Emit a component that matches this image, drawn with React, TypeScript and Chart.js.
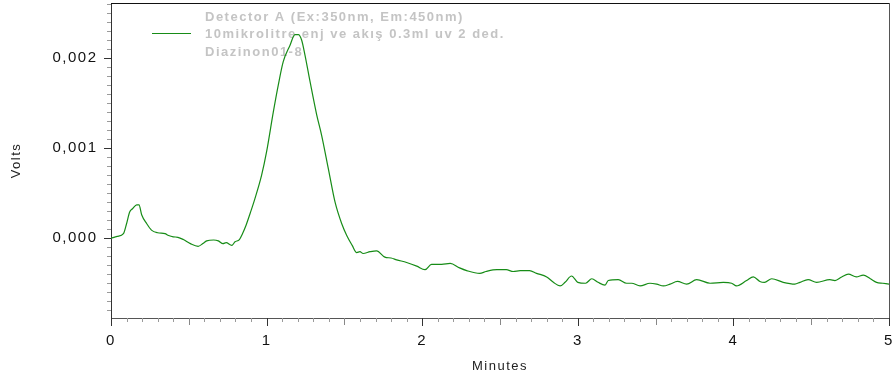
import React, { useEffect, useRef } from 'react';
import { Chart, registerables } from 'chart.js';

Chart.register(...registerables);

// ---- data ----
const TIME: number[] = [
  0.0, 0.04, 0.08, 0.1, 0.12, 0.14, 0.165, 0.18, 0.197, 0.23, 0.26, 0.3, 0.347, 0.37, 0.4, 0.43, 0.465, 0.51, 0.56,
  0.59, 0.615, 0.66, 0.69, 0.72, 0.74, 0.776, 0.797, 0.825, 0.845, 0.868, 0.895, 0.925, 0.968, 1.0, 1.043, 1.075,
  1.107, 1.15, 1.182, 1.204, 1.225, 1.247, 1.279, 1.322, 1.354, 1.397, 1.44, 1.483, 1.515, 1.55, 1.579, 1.6,
  1.62, 1.665, 1.707, 1.76, 1.8, 1.836, 1.9, 1.965, 2.018, 2.06, 2.125, 2.18, 2.24, 2.286, 2.37, 2.41, 2.48, 2.54,
  2.585, 2.63, 2.69, 2.735, 2.8, 2.843, 2.886, 2.918, 2.96, 3.0, 3.05, 3.09, 3.13, 3.175, 3.196, 3.26, 3.314,
  3.346, 3.4, 3.464, 3.507, 3.55, 3.593, 3.64, 3.7, 3.764, 3.85, 3.935, 3.989, 4.02, 4.085, 4.128, 4.17, 4.2,
  4.246, 4.32, 4.395, 4.428, 4.48, 4.535, 4.62, 4.653, 4.696, 4.739, 4.79, 4.835, 4.88, 4.92, 4.96, 5.0,
];
const VOLTS: number[] = [
  0.0, 0.00002, 0.00005, 0.00016, 0.00029, 0.00033, 0.00037, 0.00037, 0.00026, 0.00016, 0.00009, 0.00006, 0.00005,
  0.00003, 0.000015, 0.00001, -0.000015, -0.00006, -0.00009, -0.00006, -0.00003, -0.00002, -0.00003, -0.00006,
  -0.00005, -0.00008, -0.00004, -0.000015, 0.00005, 0.000144, 0.00028, 0.00044, 0.0007, 0.00096, 0.0014, 0.0017,
  0.00196, 0.00214, 0.00226, 0.00226, 0.0022, 0.00203, 0.00174, 0.00137, 0.00114, 0.00077, 0.0004, 0.00016,
  0.00003, -0.00008, -0.00016, -0.00015, -0.00017, -0.00015, -0.00014, -0.00021, -0.00022, -0.00024,
  -0.00027, -0.00031, -0.00035, -0.00029, -0.00029, -0.00028, -0.00033, -0.00036, -0.00039, -0.00037, -0.00035,
  -0.00035, -0.00037, -0.00036, -0.00036, -0.00039, -0.00043, -0.00049, -0.00053, -0.00049, -0.00042, -0.00049,
  -0.0005, -0.00045, -0.00049, -0.00052, -0.00047, -0.00046, -0.0005, -0.0005, -0.00053, -0.0005, -0.00051,
  -0.00053, -0.00051, -0.00048, -0.00051, -0.00046, -0.0005, -0.00049, -0.0005, -0.00053, -0.00047, -0.00043,
  -0.00048, -0.00049, -0.00045, -0.00049, -0.00051, -0.00049, -0.00046, -0.00049, -0.00046, -0.00047, -0.00043,
  -0.0004, -0.00043, -0.00041, -0.00045, -0.00049, -0.0005, -0.00051,
];
const SERIES_LABEL: string[] = [
  'Detector A (Ex:350nm, Em:450nm)',
  '10mikrolitre enj ve akış 0.3ml uv 2 ded.',
  'Diazinon01-8',
];
const X_MAJOR: number[] = [0, 1, 2, 3, 4, 5];
const Y_MAJOR: number[] = [0, 0.001, 0.002];
const X_MIN = 0;
const X_MAX = 5;
const Y_MIN = -0.000886;
const Y_MAX = 0.002611;
const X_MINOR_STEP = 0.1;
const Y_MINOR_STEP = 0.0001;
const X_TITLE = 'Minutes';
const Y_TITLE = 'Volts';

const LINE_COLOR = '#178c17';
const FONT = '"Liberation Sans", Arial, sans-serif';
const SPACING = '1.5px';

const near = (a: number, b: number, eps: number) => Math.abs(a - b) < eps;
const isXMajor = (v: number) => X_MAJOR.some((m) => near(m, v, 1e-6));
const isXHalf = (v: number) => near(v * 2, Math.round(v * 2), 1e-6);
const isYMajor = (v: number) => Y_MAJOR.some((m) => near(m, v, 1e-9));

const spacingPlugin = {
  id: 'letterSpacing',
  beforeLayout(chart: any) {
    chart.ctx.letterSpacing = SPACING;
  },
  beforeDraw(chart: any) {
    chart.ctx.letterSpacing = SPACING;
  },
};

const framePlugin = {
  id: 'frameAndTicks',
  afterDraw(chart: any) {
    const { ctx, chartArea } = chart;
    const xs = chart.scales.x;
    const ys = chart.scales.y;
    ctx.save();
    ctx.lineWidth = 1;
    // y ticks (outside, left)
    ys.ticks.forEach((t: any) => {
      const py = Math.round(ys.getPixelForValue(t.value)) + 0.5;
      const major = isYMajor(t.value);
      const len = major ? 7 : 4;
      ctx.strokeStyle = major ? '#333' : '#9a9a9a';
      ctx.beginPath();
      ctx.moveTo(ys.right - len, py);
      ctx.lineTo(ys.right, py);
      ctx.stroke();
    });
    // x ticks (outside, bottom)
    xs.ticks.forEach((t: any) => {
      const px = Math.round(xs.getPixelForValue(t.value)) + 0.5;
      const major = isXMajor(t.value);
      const half = isXHalf(t.value);
      const len = major ? 8 : half ? 7 : 4;
      ctx.strokeStyle = major ? '#333' : half ? '#888' : '#9a9a9a';
      ctx.beginPath();
      ctx.moveTo(px, xs.top);
      ctx.lineTo(px, xs.top + len);
      ctx.stroke();
    });
    // top and right frame
    ctx.strokeStyle = '#111';
    ctx.beginPath();
    ctx.moveTo(chartArea.left, Math.round(chartArea.top) + 0.5);
    ctx.lineTo(chartArea.right, Math.round(chartArea.top) + 0.5);
    ctx.stroke();
    ctx.strokeStyle = '#555';
    ctx.beginPath();
    ctx.moveTo(Math.round(chartArea.right) + 0.5, chartArea.top);
    ctx.lineTo(Math.round(chartArea.right) + 0.5, chartArea.bottom);
    ctx.stroke();
    ctx.restore();
  },
};

const legendPlugin = {
  id: 'innerLegend',
  beforeDatasetsDraw(chart: any) {
    const { ctx, chartArea } = chart;
    const ds = chart.data.datasets[0];
    ctx.save();
    ctx.letterSpacing = SPACING;
    ctx.strokeStyle = ds.borderColor;
    ctx.lineWidth = 1;
    const lx = chartArea.left + 41;
    const ly = Math.round(chartArea.top + 30) + 0.5;
    ctx.beginPath();
    ctx.moveTo(lx, ly);
    ctx.lineTo(lx + 39, ly);
    ctx.stroke();
    ctx.font = `bold 13px ${FONT}`;
    ctx.fillStyle = '#c4c4c4';
    ctx.textAlign = 'left';
    ctx.textBaseline = 'middle';
    SERIES_LABEL.forEach((t, i) => {
      ctx.fillText(t, chartArea.left + 94, chartArea.top + 14 + i * 17.6);
    });
    ctx.restore();
  },
};

function buildTicks(min: number, max: number, step: number) {
  const out: { value: number }[] = [];
  const n0 = Math.ceil(min / step - 1e-9);
  const n1 = Math.floor(max / step + 1e-9);
  for (let i = n0; i <= n1; i++) out.push({ value: +(i * step).toFixed(6) });
  return out;
}

export default function App() {
  const canvasRef = useRef<HTMLCanvasElement | null>(null);

  useEffect(() => {
    document.body.style.margin = '0';
    const canvas = canvasRef.current;
    if (!canvas) return;
    const chart = new Chart(canvas, {
      type: 'line',
      data: {
        datasets: [
          {
            label: SERIES_LABEL[0],
            data: TIME.map((t, i) => ({ x: t, y: VOLTS[i] })),
            borderColor: LINE_COLOR,
            borderWidth: 1.2,
            pointRadius: 0,
            cubicInterpolationMode: 'monotone',
            fill: false,
          },
        ],
      },
      options: {
        animation: false,
        responsive: false,
        devicePixelRatio: 1,
        layout: { padding: { left: 0, top: 3, right: 4, bottom: 0 } },
        plugins: {
          legend: { display: false },
          tooltip: { enabled: false },
        },
        scales: {
          x: {
            type: 'linear',
            min: X_MIN,
            max: X_MAX,
            afterBuildTicks: (s: any) => {
              s.ticks = buildTicks(X_MIN, X_MAX, X_MINOR_STEP);
            },
            afterFit: (s: any) => {
              s.height = 58;
              s.paddingLeft = 0;
              s.paddingRight = 0;
              s.paddingTop = 0;
              s.paddingBottom = 0;
            },
            grid: { display: false, drawTicks: false },
            border: { display: true, color: '#555', width: 1 },
            ticks: {
              autoSkip: false,
              maxRotation: 0,
              padding: 14,
              color: '#111',
              font: { family: FONT, size: 15 },
              callback: (v: any) => (isXMajor(Number(v)) ? String(Math.round(Number(v))) : ''),
            },
            title: {
              display: true,
              text: X_TITLE,
              color: '#222',
              font: { family: FONT, size: 13 },
              padding: { top: 0, bottom: 2 },
            },
          },
          y: {
            type: 'linear',
            min: Y_MIN,
            max: Y_MAX,
            afterBuildTicks: (s: any) => {
              s.ticks = buildTicks(Y_MIN, Y_MAX, Y_MINOR_STEP);
            },
            afterFit: (s: any) => {
              s.width = 111;
              s.paddingLeft = 0;
              s.paddingRight = 0;
              s.paddingTop = 0;
              s.paddingBottom = 0;
            },
            grid: { display: false, drawTicks: false },
            border: { display: true, color: '#333', width: 1 },
            ticks: {
              autoSkip: false,
              padding: 13.5,
              color: '#111',
              font: { family: FONT, size: 15 },
              callback: (v: any) => (isYMajor(Number(v)) ? Number(v).toFixed(3).replace('.', ',') : ''),
            },
            title: {
              display: true,
              text: Y_TITLE,
              color: '#222',
              font: { family: FONT, size: 13 },
              padding: { top: 9, bottom: 0 },
            },
          },
        },
      } as any,
      plugins: [spacingPlugin, legendPlugin, framePlugin],
    });
    return () => chart.destroy();
  }, []);

  return (
    <div style={{ width: 893, height: 376, background: '#fff' }}>
      <canvas ref={canvasRef} width={893} height={376} style={{ display: 'block', width: 893, height: 376 }} />
    </div>
  );
}
